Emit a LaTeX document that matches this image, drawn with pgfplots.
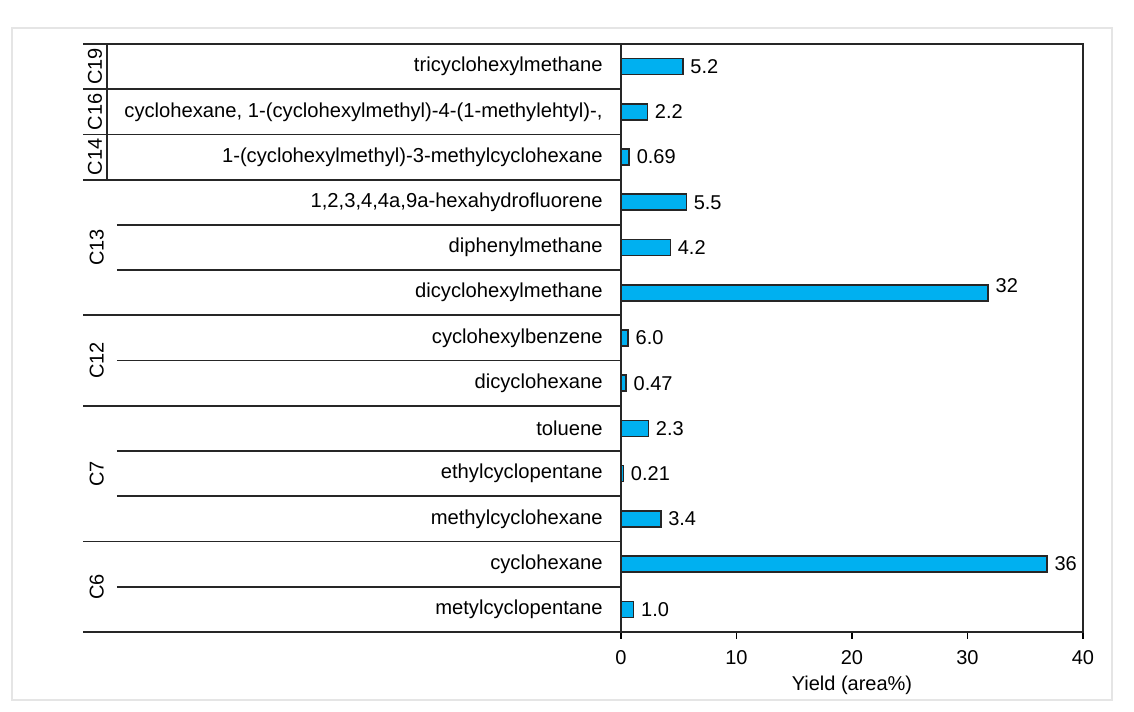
\documentclass[border=0pt]{standalone}
\usepackage{fontspec}
\setmainfont{Liberation Sans}
\usepackage{pgfplots}
\usepackage{pgfplotstable}
\pgfplotsset{compat=1.18}
\definecolor{barblue}{RGB}{0,176,240}
\pgfplotstableread{
y value label
0 1.10 1.0
1 36.9 36
2 3.45 3.4
3 0.22 0.21
4 2.38 2.3
5 0.45 0.47
6 0.63 6.0
8 4.28 4.2
9 5.66 5.5
10 0.72 0.69
11 2.29 2.2
12 5.37 5.2
}\datatable
\pgfplotstableread{
y value label
7 31.8 32
}\datatablehigh
\begin{document}
\begin{tikzpicture}
\begin{axis}[
  at={(0,0)}, anchor=south west,
  scale only axis, width=231pt, height=294pt,
  xmin=0, xmax=40, ymin=-0.5, ymax=12.5,
  xtick={0,10,20,30,40},
  xtick pos=bottom, tick align=outside,
  major tick length=3.5pt,
  xtick style={draw=black, line width=0.9pt},
  ytick={0,...,12},
  ytick style={draw=none},
  yticklabels={metylcyclopentane, cyclohexane, methylcyclohexane, ethylcyclopentane, toluene, dicyclohexane, cyclohexylbenzene, dicyclohexylmethane, diphenylmethane, {1,2,3,4,4a,9a-hexahydrofluorene}, 1-(cyclohexylmethyl)-3-methylcyclohexane, {cyclohexane, 1-(cyclohexylmethyl)-4-(1-methylehtyl)-,}, tricyclohexylmethane},
  yticklabel style={anchor=east, inner sep=0pt, xshift=-5.5pt, font=\fontsize{10.1}{12}\selectfont},
  xticklabel style={font=\fontsize{10}{12}\selectfont, yshift=-2.5pt},
  /pgf/number format/assume math mode=true,
  axis line style={line width=0.9pt, black!85},
  xlabel={Yield (area\%)},
  xlabel style={at={(axis description cs:0.5,0)}, anchor=center, yshift=-26.5pt, font=\fontsize{10}{12}\selectfont},
  clip=false,
  xbar, bar width=8pt, bar shift=0pt,
  nodes near coords,
  point meta=explicit symbolic,
  nodes near coords style={font=\fontsize{10}{12}\selectfont, anchor=west},
]
\addplot[fill=barblue, draw=black!85, line width=0.8pt] table[x=value, y=y, meta=label] {\datatable};
\addplot[fill=barblue, draw=black!85, line width=0.8pt, nodes near coords style={yshift=3.5pt}] table[x=value, y=y, meta=label] {\datatablehigh};
% light outer frame and page size
\path (axis cs:-53.77,13.473) rectangle (axis cs:44.42,-2.269);
\draw[gray!20, line width=0.8pt] (axis cs:-52.73,12.854) rectangle (axis cs:42.51,-2.003);
% table lines: group boundaries
\pgfplotsinvokeforeach{-0.5,1.5,4.5,6.5,9.5,10.5,11.5,12.5}{
  \draw[line width=0.9pt, black!85] (axis cs:-46.58,#1) -- (axis cs:0,#1);
}
% inner lines
\pgfplotsinvokeforeach{0.5,2.5,3.5,5.5,7.5,8.5}{
  \draw[line width=0.9pt, black!85] (axis cs:-43.64,#1) -- (axis cs:0,#1);
}
% vertical separator for top groups
\draw[line width=0.9pt, black!85] (axis cs:-44.5,12.5) -- (axis cs:-44.5,9.5);
% group labels
\node[rotate=90, font=\fontsize{10}{12}\selectfont] at (axis cs:-45.4,0.5) {C6};
\node[rotate=90, font=\fontsize{10}{12}\selectfont] at (axis cs:-45.4,3) {C7};
\node[rotate=90, font=\fontsize{10}{12}\selectfont] at (axis cs:-45.4,5.5) {C12};
\node[rotate=90, font=\fontsize{10}{12}\selectfont] at (axis cs:-45.4,8) {C13};
\node[rotate=90, font=\fontsize{10}{12}\selectfont] at (axis cs:-45.55,10) {C14};
\node[rotate=90, font=\fontsize{10}{12}\selectfont] at (axis cs:-45.55,11) {C16};
\node[rotate=90, font=\fontsize{10}{12}\selectfont] at (axis cs:-45.55,12) {C19};
\end{axis}
\end{tikzpicture}
\end{document}
